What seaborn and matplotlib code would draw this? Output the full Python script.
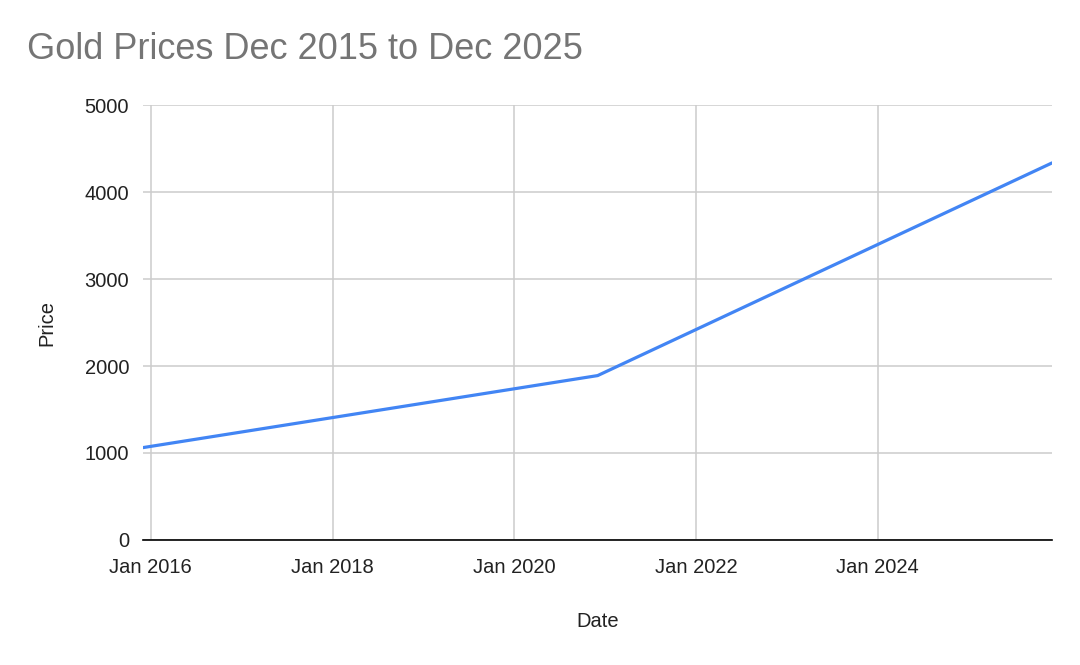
import pandas as pd
import numpy as np
import matplotlib
matplotlib.use('Agg')
import matplotlib.pyplot as plt
import matplotlib.dates as mdates
import seaborn as sns

# данные
dates = ['2015-12-01', '2020-12-01', '2025-12-01']
prices = [1062, 1890, 4335]
x_ticks = ['2016-01-01', '2018-01-01', '2020-01-01', '2022-01-01', '2024-01-01']
y_ticks = [0, 1000, 2000, 3000, 4000, 5000]

df = pd.DataFrame({'Date': pd.to_datetime(dates), 'Price': prices})

sns.set_theme(style='white')
plt.rcParams['font.family'] = ['Liberation Sans', 'DejaVu Sans']

fig = plt.figure(figsize=(10.8, 6.65), dpi=100)
ax = fig.add_axes([0.1324, 0.188, 0.8417, 0.654])

sns.lineplot(data=df, x='Date', y='Price', ax=ax, color='#4285F4', linewidth=2.3)

ax.set_xlim(pd.Timestamp('2015-12-01'), pd.Timestamp('2025-12-01'))
ax.set_ylim(0, 5000)
ax.set_xticks(pd.to_datetime(x_ticks))
ax.xaxis.set_major_formatter(mdates.DateFormatter('%b %Y'))
ax.set_yticks(y_ticks)

ax.grid(True, color='#cccccc', linewidth=1.1)
ax.set_axisbelow(True)
for s in ['left', 'right', 'top']:
    ax.spines[s].set_visible(False)
ax.spines['bottom'].set_color('black')
ax.spines['bottom'].set_linewidth(1.2)

ax.tick_params(axis='y', length=6, color='#cccccc', width=1.1, labelsize=14.5, pad=4, labelcolor='#222222')
ax.tick_params(axis='x', length=0, labelsize=14.5, pad=13, labelcolor='#222222')

ax.set_xlabel('Date', fontsize=14.5, color='#222222', labelpad=25)
ax.set_ylabel('Price', fontsize=14.5, color='#222222', labelpad=20)

fig.text(0.025, 0.925, 'Gold Prices Dec 2015 to Dec 2025', fontsize=26, color='#757575',
         ha='left', va='center')

plt.savefig('out.png', dpi=100)
